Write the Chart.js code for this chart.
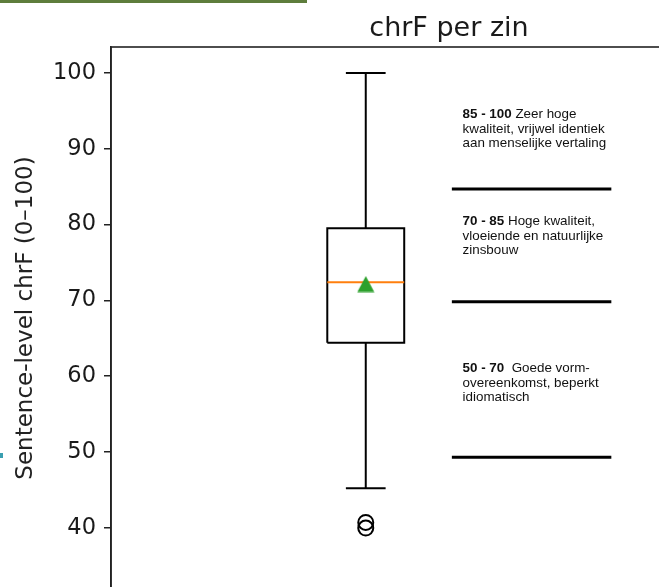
<!DOCTYPE html>
<html><head><meta charset="utf-8">
<script src="https://cdn.jsdelivr.net/npm/chart.js@4.4.1/dist/chart.umd.min.js"></script>
<style>
html,body{margin:0;padding:0;background:#fff;overflow:hidden;width:659px;height:587px;}
#wrap{position:absolute;left:0;top:0;width:898px;height:600px;}
#bar{position:absolute;left:0;top:0;width:307px;height:3px;background:#5e7d3c;}
#dot{position:absolute;left:0;top:453px;width:3px;height:5px;background:#3a9fb0;}
</style></head><body>
<div id="wrap"><canvas id="c" width="898" height="600"></canvas></div>
<div id="bar"></div><div id="dot"></div>
<script>
// ---- data ----
const yTicks = [40, 50, 60, 70, 80, 90, 100];
const categories = [1];
const whiskerLow = [45.2];
const q1 = [64.4];
const median = [72.4];
const q3 = [79.5];
const whiskerHigh = [100];
const meanValue = [72.15];
const outliers = [40.7, 39.95];
const thresholds = [84.7, 69.8, 49.3];
const bandRanges = ['85 - 100', '70 - 85', '50 - 70 '];
const bandDescriptions = [
  [' Zeer hoge', 'kwaliteit, vrijwel identiek', 'aan menselijke vertaling'],
  [' Hoge kwaliteit,', 'vloeiende en natuurlijke', 'zinsbouw'],
  [' Goede vorm-', 'overeenkomst, beperkt', 'idiomatisch']
];
const bandTextAt = [94.05, 79.95, 60.55];

// ---- layout constants ----
const BOX_HALF = 0.0755, CAP_HALF = 0.039;
const LINE_X0 = 1.169, LINE_X1 = 1.482, TEXT_X = 1.19;

const c = categories[0];
const tri = document.createElement('canvas');
tri.width = 18; tri.height = 17;
(function(){ const t = tri.getContext('2d'); t.fillStyle = '#2ca02c';
  t.beginPath(); t.moveTo(9, 0.5); t.lineTo(17.5, 16.5); t.lineTo(0.5, 16.5); t.closePath(); t.fill(); })();

const seg = (pts, color, width, order) => ({
  data: pts, showLine: true, borderColor: color, borderWidth: width, pointRadius: 0,
  fill: false, tension: 0, order: order, borderCapStyle: 'butt'
});

const datasets = [
  seg([{x:c-BOX_HALF,y:q1[0]},{x:c+BOX_HALF,y:q1[0]},{x:c+BOX_HALF,y:q3[0]},{x:c-BOX_HALF,y:q3[0]},{x:c-BOX_HALF,y:q1[0]}], '#000', 2, 3),
  seg([{x:c,y:whiskerLow[0]},{x:c,y:q1[0]}], '#000', 2, 3),
  seg([{x:c,y:q3[0]},{x:c,y:whiskerHigh[0]}], '#000', 2, 3),
  seg([{x:c-CAP_HALF,y:whiskerLow[0]},{x:c+CAP_HALF,y:whiskerLow[0]}], '#000', 2, 3),
  seg([{x:c-CAP_HALF,y:whiskerHigh[0]},{x:c+CAP_HALF,y:whiskerHigh[0]}], '#000', 2, 3),
  seg([{x:c-BOX_HALF,y:median[0]},{x:c+BOX_HALF,y:median[0]}], '#ff7f0e', 2, 1),
  { data: meanValue.map(v => ({x:c, y:v})), showLine:false, pointStyle: tri, pointRadius: 9, order: 0 },
  { data: outliers.map(v => ({x:c, y:v})), showLine:false, pointStyle:'circle', pointRadius: 7.5,
    pointBorderWidth: 2, borderColor:'#000', pointBorderColor:'#000', pointBackgroundColor:'rgba(0,0,0,0)', backgroundColor:'rgba(0,0,0,0)', order: 2 },
  ...thresholds.map(t => seg([{x:LINE_X0,y:t},{x:LINE_X1,y:t}], '#000', 3, 4))
];

const framePlugin = {
  id: 'frame',
  afterDraw(chart) {
    const {ctx, chartArea:a} = chart;
    ctx.save();
    ctx.strokeStyle = '#222'; ctx.lineWidth = 1.6;
    ctx.strokeRect(a.left, a.top, a.right - a.left, a.bottom - a.top);
    ctx.restore();
  }
};

const textPlugin = {
  id: 'bandText',
  afterDraw(chart) {
    const {ctx} = chart;
    const xs = chart.scales.x, ys = chart.scales.y;
    ctx.save();
    ctx.fillStyle = '#111';
    ctx.textBaseline = 'alphabetic';
    ctx.textAlign = 'left';
    bandRanges.forEach((r, i) => {
      const x = xs.getPixelForValue(TEXT_X);
      let y = ys.getPixelForValue(bandTextAt[i]);
      ctx.font = 'bold 13.4px "Liberation Sans", Arial, sans-serif';
      ctx.fillText(r, x, y);
      const w = ctx.measureText(r).width;
      ctx.font = '13.4px "Liberation Sans", Arial, sans-serif';
      bandDescriptions[i].forEach((line, j) => {
        ctx.fillText(line, j === 0 ? x + w : x, y + j * 14.6);
      });
    });
    // y-axis label
    ctx.font = '23px "DejaVu Sans", sans-serif';
    ctx.fillStyle = '#222';
    ctx.textAlign = 'center';
    ctx.textBaseline = 'middle';
    ctx.translate(chart.chartArea.left - 85, 318);
    ctx.rotate(-Math.PI / 2);
    ctx.fillText('Sentence-level chrF (0\u2013100)', 0, 0);
    ctx.restore();
  }
};

new Chart(document.getElementById('c'), {
  type: 'scatter',
  data: { datasets },
  options: {
    responsive: false, animation: false, devicePixelRatio: 1,
    layout: { padding: { left: 0, right: 0, top: 0, bottom: 0 } },
    plugins: {
      legend: { display: false }, tooltip: { enabled: false },
      title: { display: true, text: 'chrF per zin', color: '#1a1a1a',
        font: { family: '"DejaVu Sans", sans-serif', size: 27, weight: 'normal', lineHeight: 1.2 },
        padding: { top: 13, bottom: 1.6 } }
    },
    scales: {
      x: { type: 'linear', min: 0.5, max: 2.025, display: false },
      y: { type: 'linear', min: 31.78, max: 103.43, position: 'left',
        afterBuildTicks(s) { s.ticks = yTicks.map(v => ({ value: v })); },
        afterFit(s) { s.width = 111; s.paddingTop = 0; s.paddingBottom = 0; },
        ticks: { color: '#1a1a1a', padding: 8, font: { family: '"DejaVu Sans", sans-serif', size: 22.5 } },
        grid: { display: true, drawOnChartArea: false, drawTicks: true, tickLength: 7, color: '#222', lineWidth: 1.5 },
        border: { display: true, color: '#222', width: 1.6 }
      }
    }
  },
  plugins: [framePlugin, textPlugin]
});
</script>
</body></html>
